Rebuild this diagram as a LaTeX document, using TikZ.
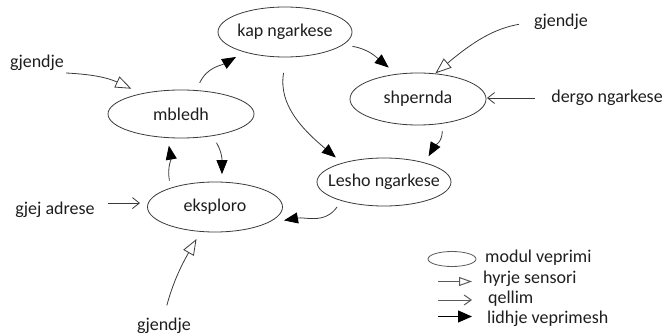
\documentclass[tikz,border=0pt]{standalone}
\usepackage{fontspec}
\setmainfont{Carlito}
\usetikzlibrary{arrows.meta,shapes.geometric,calc}

\definecolor{linecol}{HTML}{3A3A3A}
\definecolor{legcol}{HTML}{5A5A5A}
\definecolor{inkcol}{HTML}{1E1E1E}

\begin{document}
\begin{tikzpicture}[x=1pt,y=1pt,
  font=\fontsize{18}{21}\selectfont,
  text=inkcol,
  modul/.style={ellipse, draw=linecol, line width=0.8pt, inner sep=0pt, outer sep=8pt},
  veprim/.style={draw=linecol, line width=0.8pt, -{Triangle[length=14pt,width=11pt,fill=black,color=black]}},
  sensor/.style={draw=linecol, line width=0.8pt, -{Triangle[open,length=16pt,width=12pt,fill=white]}},
  qellim/.style={draw=linecol, line width=0.8pt, -{Straight Barb[length=7pt,width=11pt]}},
  lbl/.style={inner sep=2pt},
  legtext/.style={anchor=base west, inner sep=0pt},
  legline/.style={draw=legcol, line width=1pt}
]
\useasboundingbox (0,0) rectangle (666,335);

% action modules
\node[modul, minimum width=134pt, minimum height=50pt] (kap)      at (285,303) {\makebox[0pt]{kap ngarkese}};
\node[modul, minimum width=146pt, minimum height=48pt] (mbledh)   at (181,221) {\makebox[0pt]{mbledh}};
\node[modul, minimum width=136pt, minimum height=52pt] (shpernda) at (418,236) {\makebox[0pt]{shpernda}};
\node[modul, minimum width=135pt, minimum height=50pt] (eksploro) at (215,128) {\makebox[0pt]{eksploro}};
\node[modul, minimum width=134pt, minimum height=48pt] (lesho)    at (384,153) {\makebox[0pt]{Lesho ngarkese}};

% links between modules
\draw[veprim] (mbledh.59) to[out=65,in=210] (kap.207);
\draw[veprim] (kap.-12) to[out=-10,in=140] (shpernda.133);
\draw[veprim, shorten <=8pt] (kap.-90) to[out=-100,in=140] (lesho.153);
\draw[veprim] (shpernda.-53) to[out=-90,in=60] (lesho.30);
\draw[veprim] (lesho.208) to[out=235,in=10] (eksploro.-11);
\draw[veprim] (eksploro.150) to[out=100,in=-80] (mbledh.249);
\draw[veprim] (mbledh.-39) to[out=-60,in=90] (eksploro.78);

% sensor inputs
\node[lbl] (gl) at (37,272) {gjendje};
\node[lbl] (gr) at (561,313) {gjendje};
\node[lbl] (gb) at (164,9) {gjendje};
\draw[sensor] (gl.south east) to[out=-3,in=155] (mbledh.153);
\draw[sensor, shorten <=13pt, shorten >=-10pt] (gr.west) to[out=190,in=40] (shpernda.52);
\draw[sensor, shorten <=11pt] (gb.north) to[out=75,in=240] (eksploro.240);

% goals
\node[lbl] (ga) at (55,125) {gjej adrese};
\node[lbl] (dn) at (607,237) {dergo ngarkese};
\draw[qellim, shorten <=11pt] (ga.east |- eksploro.177) -- (eksploro.177);
\draw[qellim, shorten <=14pt, shorten >=-7pt] (dn.west) -- (shpernda.east |- dn.west);

% legend
\node[ellipse, draw=legcol, line width=0.8pt, inner sep=0pt, minimum width=48pt, minimum height=15pt] (lm) at (452,76) {};
\node[legtext] (tm) at (485,73) {modul veprimi};
\node[legtext] (t1) at (483,52) {hyrje sensori};
\node[legtext] (t2) at (488,32) {qellim};
\node[legtext] (t3) at (487,12) {lidhje veprimesh};
\coordinate (s1) at (438,53.5); \coordinate (e1) at (472,53.5);
\coordinate (s2) at (438,35);   \coordinate (e2) at (472,35);
\coordinate (s3) at (438,18.5); \coordinate (e3) at (472,18.5);
\draw[legline, -{Triangle[open,length=13pt,width=9pt,fill=white]}] (s1) -- (e1);
\draw[legline, -{Straight Barb[length=7pt,width=10pt]}] (s2) -- (e2);
\draw[legline, draw=black, -{Triangle[length=14pt,width=12pt]}] (s3) -- (e3);
\end{tikzpicture}
\end{document}
